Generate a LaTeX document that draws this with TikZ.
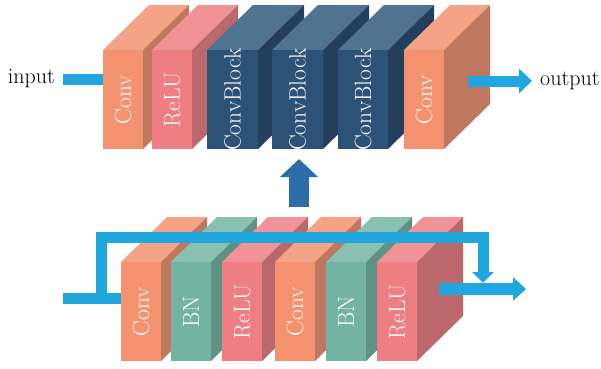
\documentclass[tikz,border=0pt]{standalone}
\usepackage{tikz}
\usetikzlibrary{arrows.meta}
\definecolor{convF}{HTML}{F4926F}
\definecolor{convT}{HTML}{F5A386}
\definecolor{convS}{HTML}{C07760}
\definecolor{reluF}{HTML}{EE7E82}
\definecolor{reluT}{HTML}{F19396}
\definecolor{reluS}{HTML}{BA686C}
\definecolor{cblkF}{HTML}{2C5278}
\definecolor{cblkT}{HTML}{4F7391}
\definecolor{cblkS}{HTML}{243F5E}
\definecolor{bnF}{HTML}{73B3A2}
\definecolor{bnT}{HTML}{8AC0B2}
\definecolor{bnS}{HTML}{5F9284}
\definecolor{flowblue}{HTML}{1FA7DE}
\definecolor{upblue}{HTML}{2E6EA8}
\tikzset{
  flow/.style={draw=flowblue,line width=11pt,line join=miter},
  lbl/.style={rotate=90,text=white,font=\fontsize{23.5}{28}\selectfont},
  io/.style={font=\fontsize{22}{26}\selectfont,inner xsep=8pt,inner ysep=0pt},
}
% one layer: name, left x, top y, width, colour, label
\newcommand{\layer}[6]{%
  \fill[#5T] (#2,#3) -- ++(46,-45) -- ++(#4,0) -- ++(-46,45) -- cycle;
  \fill[#5S] ({#2+#4},#3) -- ++(46,-45) -- ++(0,99) -- ++(-46,45) -- cycle;
  \node[fill=#5F,minimum width=#4pt,minimum height=99pt,inner sep=0pt,anchor=north west] (#1) at (#2,#3) {};
  \node[lbl] (#1t) at (#1.center) {#6};
}
\begin{document}
\begin{tikzpicture}[x=1pt,y=-1pt]
\useasboundingbox (0,0) rectangle (601,368);
% upper chain
\layer{a1}{103}{50}{40}{conv}{Conv}
\layer{a2}{152}{50}{40}{relu}{ReLU}
\layer{a3}{207}{50}{51}{cblk}{ConvBlock}
\layer{a4}{272}{50}{51}{cblk}{ConvBlock}
\layer{a5}{338}{50}{50}{cblk}{ConvBlock}
\layer{a6}{404}{50}{40}{conv}{Conv}
\node[io,anchor=east] (in) at (63,79) {input};
\node[io,anchor=west] (out) at (532,81) {output};
\coordinate (o1) at (468,81);
\draw[flow] (in.east) -- (in.east -| a1.west);
\draw[flow,-{Triangle[width=24pt,length=13pt]}] (o1) -- (o1 -| out.west);
%
\coordinate (u1) at (299,207);
\coordinate (u2) at (299,159);
\draw[draw=upblue,line width=20pt,-{Triangle[width=37pt,length=18pt]}] (u1) -- (u2);
% lower chain (ConvBlock)
\layer{b1}{121}{262}{40}{conv}{Conv}
\layer{b2}{171}{262}{40}{bn}{BN}
\layer{b3}{222}{262}{40}{relu}{ReLU}
\layer{b4}{275}{262}{40}{conv}{Conv}
\layer{b5}{326}{262}{40}{bn}{BN}
\layer{b6}{377}{262}{40}{relu}{ReLU}
\coordinate (i2) at (63,298);
\coordinate (skipa) at (101,298);
\coordinate (skipb) at (483,283);
\coordinate (o2) at (439,289);
\coordinate (o2e) at (526,289);
\draw[flow] (i2) -- (i2 -| b1.west);
\draw[flow,-{Triangle[width=21pt,length=11pt]}] (skipa) -- ++(0,-61) -| (skipb);
\draw[flow,line width=12pt,-{Triangle[width=23pt,length=13pt]}] (o2) -- (o2e);
\end{tikzpicture}
\end{document}
